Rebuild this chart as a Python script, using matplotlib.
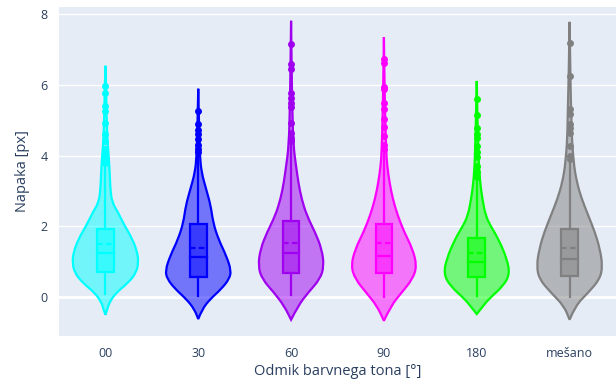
import numpy as np
import matplotlib
matplotlib.use('Agg')
import matplotlib.pyplot as plt
from matplotlib.path import Path
from matplotlib.patches import PathPatch, Rectangle


# categories and colours
categories = ['00', '30', '60', '90', '180', 'mešano']
colors = ['#00FFFF', '#0000FF', '#A000F0', '#FF00FF', '#00FF00', '#808080']

# violin outlines: y levels and relative density (widest = 1)
prof_y = [
    [-0.50, -0.34, -0.15, 0.13, 0.41, 0.70, 0.98, 1.26, 1.64, 2.02, 2.40, 2.68, 3.06, 3.53, 3.99, 4.57, 5.50, 6.54],
    [-0.62, -0.34, -0.06, 0.23, 0.51, 0.75, 1.17, 1.64, 2.11, 2.58, 3.05, 3.52, 3.99, 4.80, 5.89],
    [-0.64, -0.25, 0.13, 0.51, 0.88, 1.36, 1.83, 2.30, 2.77, 3.24, 3.71, 4.27, 5.50, 7.81],
    [-0.67, -0.25, 0.13, 0.51, 0.88, 1.36, 1.83, 2.30, 2.77, 3.24, 3.71, 4.09, 5.30, 7.35],
    [-0.48, -0.28, -0.06, 0.32, 0.65, 1.07, 1.64, 2.01, 2.30, 2.77, 3.33, 4.20, 6.11],
    [-0.64, -0.25, 0.13, 0.51, 0.88, 1.36, 1.83, 2.30, 2.77, 3.24, 3.80, 4.80, 7.78],
]
prof_d = [
    [0, .06, .12, .33, .70, .94, 1.0, .97, .82, .58, .38, .20, .15, .13, .10, .05, .03, 0],
    [0, .12, .36, .70, .94, 1.0, .85, .61, .45, .38, .24, .10, .05, .025, 0],
    [0, .21, .52, .88, 1.0, .93, .73, .48, .32, .22, .15, .07, .03, 0],
    [0, .21, .54, .87, 1.0, .87, .62, .42, .27, .17, .10, .07, .03, 0],
    [0, .17, .36, .81, 1.0, .92, .66, .42, .27, .17, .09, .04, 0],
    [0, .17, .57, .92, 1.0, .92, .77, .57, .37, .22, .12, .05, 0],
]

# box statistics
q1 = [0.70, 0.58, 0.67, 0.67, 0.56, 0.60]
median = [1.26, 1.12, 1.24, 1.17, 1.00, 1.09]
mean = [1.50, 1.40, 1.54, 1.53, 1.26, 1.40]
q3 = [1.92, 2.08, 2.16, 2.06, 1.66, 1.92]
lo_whisk = [0.08, 0.04, 0.06, 0.01, 0.04, 0.01]
hi_whisk = [3.70, 4.05, 4.30, 4.05, 3.30, 3.85]

# outliers
outliers = [
    [5.97, 5.76, 5.40, 5.26, 4.93, 4.60, 4.40, 4.20, 4.05, 3.90, 3.80],
    [5.26, 4.89, 4.73, 4.60, 4.46, 4.30, 4.20, 4.10],
    [7.15, 6.58, 6.44, 5.78, 5.64, 5.50, 5.36, 4.93, 4.65, 4.51, 4.40],
    [6.72, 6.61, 5.95, 5.88, 5.50, 5.31, 5.03, 4.80, 4.55, 4.30, 4.20],
    [5.61, 5.14, 4.79, 4.60, 4.51, 4.27, 4.09, 3.95, 3.71, 3.55, 3.40],
    [7.18, 6.25, 5.31, 5.17, 4.89, 4.79, 4.65, 4.27, 3.99, 3.90],
]


def smooth_path(pts):
    # quadratic bezier through midpoints
    verts = [pts[0]]
    codes = [Path.MOVETO]
    for i in range(1, len(pts) - 1):
        mid = ((pts[i][0] + pts[i + 1][0]) / 2, (pts[i][1] + pts[i + 1][1]) / 2)
        verts += [pts[i], mid]
        codes += [Path.CURVE3, Path.CURVE3]
    verts.append(pts[-1])
    codes.append(Path.LINETO)
    return verts, codes


plt.rcParams['font.family'] = ['Open Sans', 'DejaVu Sans']
txt = '#2a3f5f'

fig = plt.figure(figsize=(6.16, 3.85), dpi=100)
ax = fig.add_axes([59 / 616, 49 / 385, 557 / 616, 329 / 385])
ax.set_facecolor('#E5ECF6')

half_w = 0.355
box_w = 0.09

for i, c in enumerate(colors):
    ys = prof_y[i]
    ds = prof_d[i]
    right = [(i + d * half_w, y) for y, d in zip(ys, ds)]
    left = [(i - d * half_w, y) for y, d in zip(ys, ds)][::-1]
    vr, cr = smooth_path(right)
    vl, cl = smooth_path(left)
    verts = vr + vl[1:] + [vr[0]]
    codes = cr + cl[1:] + [Path.CLOSEPOLY]
    ax.add_patch(PathPatch(Path(verts, codes), facecolor=c, alpha=0.5,
                           edgecolor='none', zorder=2))
    ax.add_patch(PathPatch(Path(verts, codes), facecolor='none',
                           edgecolor=c, lw=1.6, zorder=3))

    # whiskers
    ax.plot([i, i], [lo_whisk[i], q1[i]], color=c, lw=1.6, zorder=3)
    ax.plot([i, i], [q3[i], hi_whisk[i]], color=c, lw=1.6, zorder=3)
    # box
    ax.add_patch(Rectangle((i - box_w, q1[i]), 2 * box_w, q3[i] - q1[i],
                           facecolor=c, alpha=0.5, edgecolor='none', zorder=4))
    ax.add_patch(Rectangle((i - box_w, q1[i]), 2 * box_w, q3[i] - q1[i],
                           facecolor='none', edgecolor=c, lw=1.6, zorder=5))
    ax.plot([i - box_w, i + box_w], [median[i], median[i]], color=c, lw=1.6, zorder=5)
    ax.plot([i - box_w, i + box_w], [mean[i], mean[i]], color=c, lw=1.6,
            ls=(0, (2.5, 1.5)), zorder=5)
    ax.plot([i] * len(outliers[i]), outliers[i], 'o', color=c, ms=5,
            mec='none', zorder=6)

ax.set_xlim(-0.5, 5.5)
ax.set_ylim(-1.1, 8.2)
ax.set_xticks(range(len(categories)))
ax.set_xticklabels(categories)
ax.set_yticks([0, 2, 4, 6, 8])
ax.grid(axis='y', color='white', lw=1)
ax.axhline(0, color='white', lw=2, zorder=1)
ax.set_axisbelow(True)
ax.tick_params(length=0, labelsize=9, colors=txt, pad=8)
for s in ax.spines.values():
    s.set_visible(False)

ax.set_xlabel('Odmik barvnega tona [°]', fontsize=10.5, color=txt, labelpad=3)
ax.set_ylabel('Napaka [px]', fontsize=10.5, color=txt, labelpad=8)

fig.savefig('out.png', dpi=100)
